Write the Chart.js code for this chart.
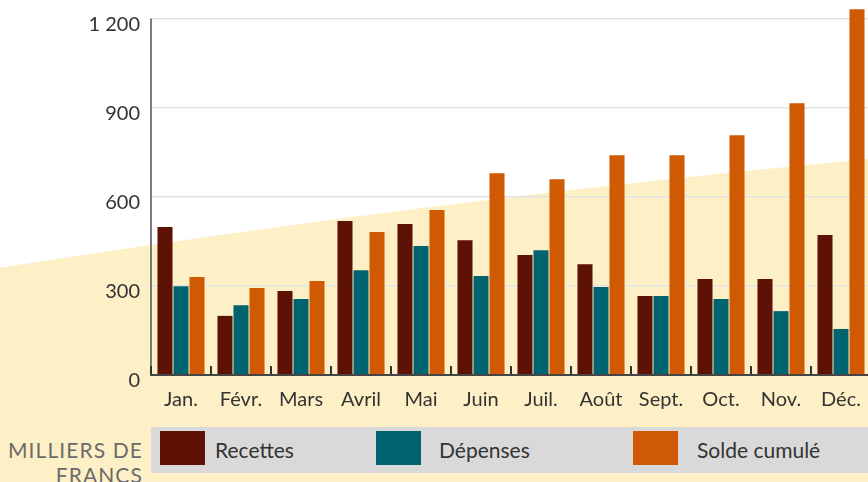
<!DOCTYPE html>
<html>
<head>
<meta charset="utf-8">
<script src="https://cdn.jsdelivr.net/npm/chart.js@4.4.0/dist/chart.umd.min.js"></script>
<style>
  html, body { margin: 0; padding: 0; width: 868px; height: 482px; overflow: hidden; background: #fef0c6; font-family: Lato, sans-serif; }
  #chart { position: absolute; left: 0; top: 0; }
  .unit { position: absolute; left: 0; top: 437px; width: 143px; text-align: right; font-size: 21px; line-height: 25px; color: #6b6b6b; letter-spacing: 1.1px; }
  .legend { position: absolute; left: 151px; top: 427px; width: 730px; height: 46px; background: #d9d9d9; }
  .sw { position: absolute; top: 4px; width: 45px; height: 34px; }
  .lbl { position: absolute; top: 10px; font-size: 21px; line-height: 25px; color: #333; }
</style>
</head>
<body>
<canvas id="chart" width="871" height="425"></canvas>
<div class="unit">MILLIERS DE<br>FRANCS</div>
<div class="legend" id="legend"></div>
<script>
// Data (milliers de francs)
const months = ["Jan.", "Févr.", "Mars", "Avril", "Mai", "Juin", "Juil.", "Août", "Sept.", "Oct.", "Nov.", "Déc."];
const recettes = [498, 199, 283, 518, 508, 454, 404, 373, 266, 323, 323, 471];
const depenses = [299, 235, 256, 353, 434, 333, 420, 296, 266, 256, 215, 155];
const solde = [330, 293, 316, 481, 555, 679, 659, 740, 740, 807, 915, 1231];
const yTicks = [0, 300, 600, 900, 1200];
const seriesNames = ["Recettes", "Dépenses", "Solde cumulé"];
const seriesColors = ["#5e1206", "#006470", "#d05a04"];

// Legend (HTML, under the chart)
const legendSwatchX = [9, 225, 482];
const legendTextX = [64, 288, 546];
const legend = document.getElementById("legend");
seriesNames.forEach((name, i) => {
  const sw = document.createElement("div");
  sw.className = "sw";
  sw.style.left = legendSwatchX[i] + "px";
  sw.style.background = seriesColors[i];
  legend.appendChild(sw);
  const t = document.createElement("div");
  t.className = "lbl";
  t.style.left = legendTextX[i] + "px";
  t.textContent = name;
  legend.appendChild(t);
});

// Cream diagonal band behind the plot
const backgroundPlugin = {
  id: "backgroundPlugin",
  beforeDraw(chart) {
    const ctx = chart.ctx;
    const w = chart.width, h = chart.height;
    ctx.save();
    ctx.fillStyle = "#ffffff";
    ctx.fillRect(0, 0, w, h);
    ctx.fillStyle = "#fef0c6";
    ctx.beginPath();
    ctx.moveTo(0, 267.7);
    ctx.quadraticCurveTo(434, 199.8, 868, 159);
    ctx.lineTo(w, 158.5);
    ctx.lineTo(w, h);
    ctx.lineTo(0, h);
    ctx.closePath();
    ctx.fill();
    ctx.restore();
  },
};

// Axis lines and the small inward ticks between months
const axesPlugin = {
  id: "axesPlugin",
  afterDatasetsDraw(chart) {
    const ctx = chart.ctx;
    const x = chart.scales.x;
    const y = chart.scales.y;
    const area = chart.chartArea;
    const y0 = y.getPixelForValue(0);
    const yTop = y.getPixelForValue(yTicks[yTicks.length - 1]);
    const half = (x.getPixelForValue(1) - x.getPixelForValue(0)) / 2;
    ctx.save();
    ctx.strokeStyle = "#7a7a7a";
    ctx.lineWidth = 2;
    ctx.beginPath();
    ctx.moveTo(area.left, yTop);
    ctx.lineTo(area.left, y0);
    ctx.stroke();

    ctx.strokeStyle = "#333333";
    ctx.lineWidth = 2;
    for (let i = 0; i < months.length; i++) {
      const tx = Math.round(x.getPixelForValue(i) - half);
      ctx.beginPath();
      ctx.moveTo(tx, y0 - 9);
      ctx.lineTo(tx, y0);
      ctx.stroke();
    }

    ctx.strokeStyle = "#454545";
    ctx.lineWidth = 2;
    ctx.beginPath();
    ctx.moveTo(area.left - 1, y0);
    ctx.lineTo(area.right, y0);
    ctx.stroke();
    ctx.restore();
  },
};

const ctx = document.getElementById("chart").getContext("2d");
new Chart(ctx, {
  type: "bar",
  data: {
    labels: months,
    datasets: [
      { label: seriesNames[0], data: recettes, backgroundColor: seriesColors[0] },
      { label: seriesNames[1], data: depenses, backgroundColor: seriesColors[1] },
      { label: seriesNames[2], data: solde, backgroundColor: seriesColors[2] },
    ],
  },
  options: {
    responsive: false,
    animation: false,
    events: [],
    layout: { padding: { top: 9, left: 0, right: 0, bottom: 0 } },
    datasets: {
      bar: { categoryPercentage: 0.8, barPercentage: 0.94, borderWidth: 0 },
    },
    scales: {
      x: {
        grid: { display: false },
        border: { display: false },
        ticks: { color: "#333", font: { family: "Lato", size: 20 }, padding: 5, maxRotation: 0, autoSkip: false },
        afterFit(scale) {
          scale.height = 50;
          scale.paddingLeft = 0;
          scale.paddingRight = 0;
        },
      },
      y: {
        min: 0,
        max: 1232,
        grid: { color: "#e3e3e3", lineWidth: 1.5, drawTicks: false },
        border: { display: false },
        ticks: {
          color: "#333",
          font: { family: "Lato", size: 20 },
          padding: 11,
          labelOffset: 6,
          callback: (v) => String(v).replace(/\B(?=(\d{3})+(?!\d))/g, " "),
        },
        afterBuildTicks(scale) {
          scale.ticks = yTicks.map((v) => ({ value: v }));
        },
        afterFit(scale) {
          scale.width = 151;
          scale.paddingTop = 0;
          scale.paddingBottom = 0;
        },
      },
    },
    plugins: {
      legend: { display: false },
      tooltip: { enabled: false },
    },
  },
  plugins: [backgroundPlugin, axesPlugin],
});
</script>
</body>
</html>
